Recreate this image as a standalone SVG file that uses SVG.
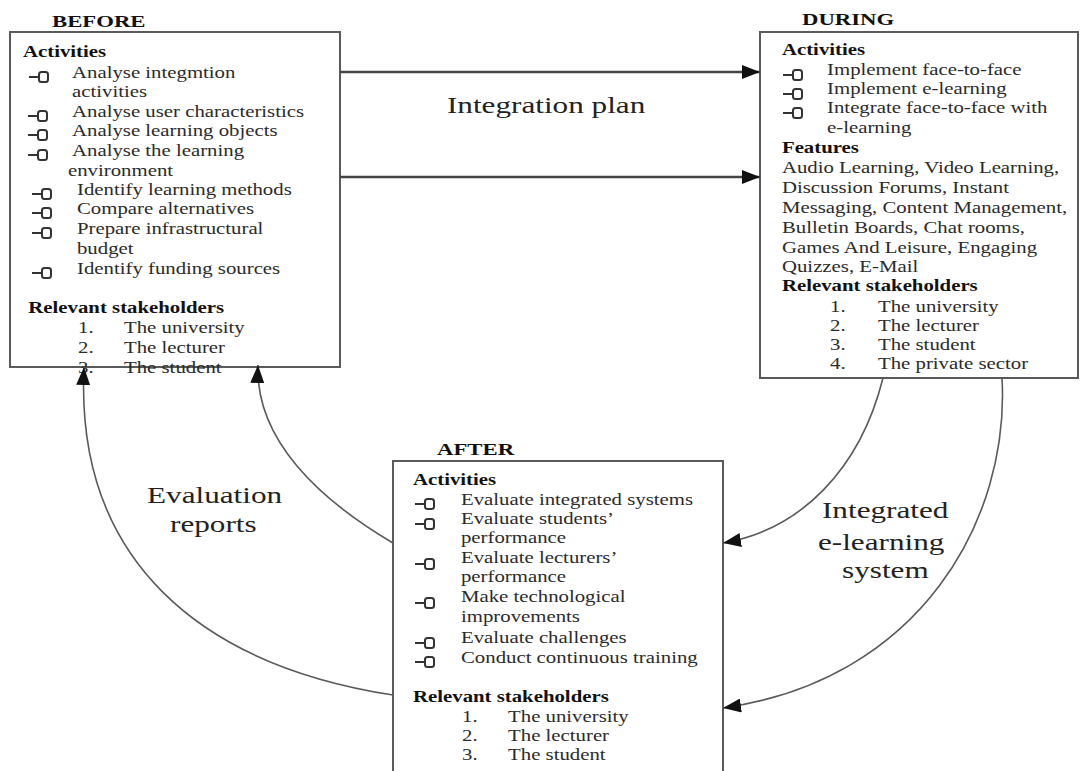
<svg xmlns="http://www.w3.org/2000/svg" xmlns:xlink="http://www.w3.org/1999/xlink" width="1081" height="771" viewBox="0 0 1081 771">
  <style>
    .t { font-family: "Liberation Serif", "Times New Roman", serif; font-size: 16px; fill: #2b2b2b; }
    .b { font-weight: bold; fill: #111; }
    .h { font-size: 17.5px; font-weight: bold; fill: #111; }
    .lab { font-size: 24px; fill: #222; }
    .box { fill: #fff; stroke: #5a5a5a; stroke-width: 2; }
    .con { fill: none; stroke: #5a5a5a; stroke-width: 1.6; }
    .plan { fill: none; stroke: #444; stroke-width: 2.5; }
  </style>
  <defs>
    <!-- filled arrowhead, fixed size in user units -->
    <marker id="arr" markerUnits="userSpaceOnUse" markerWidth="18" markerHeight="14" refX="18" refY="7" orient="auto">
      <path d="M0,0 L18,7 L0,14 z" fill="#111"/>
    </marker>
    <!-- dash + small square bullet -->
    <g id="bul">
      <path d="M0 0 H10" stroke="#333" stroke-width="2" fill="none"/>
      <rect x="10" y="-5" width="9" height="10" rx="2.5" fill="none" stroke="#333" stroke-width="2"/>
    </g>
  </defs>

  <rect width="1081" height="771" fill="#fff"/>

  <!-- BEFORE -->
  <g id="before">
    <rect class="box" x="10" y="32" width="330" height="335"/>
    <use xlink:href="#bul" x="29" y="77"/>
    <use xlink:href="#bul" x="28" y="116"/>
    <use xlink:href="#bul" x="28" y="135"/>
    <use xlink:href="#bul" x="28" y="155"/>
    <use xlink:href="#bul" x="32" y="194"/>
    <use xlink:href="#bul" x="32" y="213"/>
    <use xlink:href="#bul" x="32" y="233"/>
    <use xlink:href="#bul" x="32" y="273"/>
    <g transform="scale(1.3 1)">
      <text class="t h" x="40" y="27">BEFORE</text>
      <text class="t b" x="17.7" y="57">Activities</text>
      <text class="t" x="55.4" y="78">Analyse integmtion</text>
      <text class="t" x="55.4" y="97">activities</text>
      <text class="t" x="55.4" y="117">Analyse user characteristics</text>
      <text class="t" x="55.4" y="136">Analyse learning objects</text>
      <text class="t" x="55.4" y="156">Analyse the learning</text>
      <text class="t" x="52.3" y="176">environment</text>
      <text class="t" x="59.2" y="195">Identify learning methods</text>
      <text class="t" x="59.2" y="214">Compare alternatives</text>
      <text class="t" x="59.2" y="234">Prepare infrastructural</text>
      <text class="t" x="59.2" y="254">budget</text>
      <text class="t" x="59.2" y="274">Identify funding sources</text>
      <text class="t b" x="21.8" y="313">Relevant stakeholders</text>
      <text class="t" x="60" y="333">1.</text>
      <text class="t" x="95.4" y="333">The university</text>
      <text class="t" x="60" y="353">2.</text>
      <text class="t" x="95.4" y="353">The lecturer</text>
      <text class="t" x="60" y="373">3.</text>
      <text class="t" x="95.4" y="373">The student</text>
    </g>
  </g>

  <!-- DURING -->
  <g id="during">
    <rect class="box" x="760" y="32" width="318" height="346"/>
    <use xlink:href="#bul" x="783" y="75"/>
    <use xlink:href="#bul" x="783" y="94"/>
    <use xlink:href="#bul" x="783" y="113"/>
    <g transform="scale(1.3 1)">
      <text class="t h" x="616.9" y="25">DURING</text>
      <text class="t b" x="601.5" y="55">Activities</text>
      <text class="t" x="636.2" y="75">Implement face-to-face</text>
      <text class="t" x="636.2" y="94">Implement e-learning</text>
      <text class="t" x="636.2" y="113">Integrate face-to-face with</text>
      <text class="t" x="636.2" y="133">e-learning</text>
      <text class="t b" x="601.5" y="153">Features</text>
      <text class="t" x="601.5" y="173">Audio Learning, Video Learning,</text>
      <text class="t" x="601.5" y="193">Discussion Forums, Instant</text>
      <text class="t" x="601.5" y="213">Messaging, Content Management,</text>
      <text class="t" x="601.5" y="233">Bulletin Boards, Chat rooms,</text>
      <text class="t" x="601.5" y="253">Games And Leisure, Engaging</text>
      <text class="t" x="601.5" y="272">Quizzes, E-Mail</text>
      <text class="t b" x="601.5" y="291">Relevant stakeholders</text>
      <text class="t" x="638.5" y="312">1.</text>
      <text class="t" x="675.4" y="312">The university</text>
      <text class="t" x="638.5" y="331">2.</text>
      <text class="t" x="675.4" y="331">The lecturer</text>
      <text class="t" x="638.5" y="350">3.</text>
      <text class="t" x="675.4" y="350">The student</text>
      <text class="t" x="638.5" y="369">4.</text>
      <text class="t" x="675.4" y="369">The private sector</text>
    </g>
  </g>

  <!-- AFTER -->
  <g id="after">
    <rect class="box" x="393" y="461" width="330" height="330"/>
    <use xlink:href="#bul" x="415" y="504"/>
    <use xlink:href="#bul" x="415" y="524"/>
    <use xlink:href="#bul" x="415" y="564"/>
    <use xlink:href="#bul" x="415" y="603"/>
    <use xlink:href="#bul" x="415" y="643"/>
    <use xlink:href="#bul" x="415" y="662"/>
    <g transform="scale(1.3 1)">
      <text class="t h" x="336.2" y="455">AFTER</text>
      <text class="t b" x="317.7" y="485">Activities</text>
      <text class="t" x="354.6" y="505">Evaluate integrated systems</text>
      <text class="t" x="354.6" y="524">Evaluate students’</text>
      <text class="t" x="354.6" y="543">performance</text>
      <text class="t" x="354.6" y="563">Evaluate lecturers’</text>
      <text class="t" x="354.6" y="582">performance</text>
      <text class="t" x="354.6" y="602">Make technological</text>
      <text class="t" x="354.6" y="622">improvements</text>
      <text class="t" x="354.6" y="643">Evaluate challenges</text>
      <text class="t" x="354.6" y="663">Conduct continuous training</text>
      <text class="t b" x="317.7" y="702">Relevant stakeholders</text>
      <text class="t" x="355.4" y="722">1.</text>
      <text class="t" x="390.8" y="722">The university</text>
      <text class="t" x="355.4" y="741">2.</text>
      <text class="t" x="390.8" y="741">The lecturer</text>
      <text class="t" x="355.4" y="760">3.</text>
      <text class="t" x="390.8" y="760">The student</text>
    </g>
  </g>

  <!-- connectors -->
  <g id="connectors">
    <path class="plan" d="M340 72 H760" marker-end="url(#arr)"/>
    <path class="plan" d="M340 177 H760" marker-end="url(#arr)"/>
    <path class="con" d="M393 695 C200 665 75 560 84 367" marker-end="url(#arr)"/>
    <path class="con" d="M393 543 C320 500 255 440 258 365" marker-end="url(#arr)"/>
    <path class="con" d="M883 378 C860 470 800 530 723 543" marker-end="url(#arr)"/>
    <path class="con" d="M1002 378 C1010 520 920 680 723 708" marker-end="url(#arr)"/>
    <g transform="scale(1.3 1)">
      <text class="t lab" x="343.8" y="113">Integration plan</text>
      <text class="t lab" x="113.1" y="503">Evaluation</text>
      <text class="t lab" x="130.8" y="532">reports</text>
      <text class="t lab" x="632.3" y="518">Integrated</text>
      <text class="t lab" x="629.2" y="550">e-learning</text>
      <text class="t lab" x="647.7" y="578">system</text>
    </g>
  </g>
</svg>
